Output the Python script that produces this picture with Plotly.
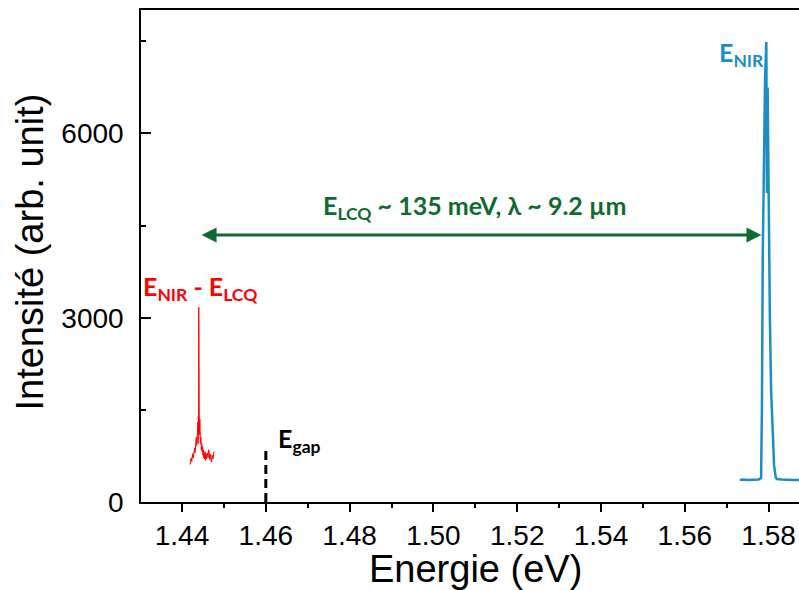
import plotly.graph_objects as go

# ---- data ----
red_energy = [1.44190, 1.44200, 1.44210, 1.44220, 1.44230, 1.44240, 1.44250, 1.44260,
              1.44270, 1.44280, 1.44290, 1.44300, 1.44310, 1.44320, 1.44330, 1.44340,
              1.44350, 1.44360, 1.44370, 1.44380, 1.44385, 1.44390, 1.44395, 1.44400,
              1.44403, 1.44406, 1.44410, 1.44413, 1.44416, 1.44420, 1.44425, 1.44430,
              1.44435, 1.44440, 1.44450, 1.44460, 1.44470,
              1.44480, 1.44490, 1.44500, 1.44510, 1.44520, 1.44530, 1.44540, 1.44550,
              1.44560, 1.44570, 1.44580, 1.44600, 1.44620, 1.44640, 1.44660, 1.44680,
              1.44700, 1.44720, 1.44740, 1.44760]
red_intensity = [610, 700, 640, 720, 660, 760, 700, 790,
                 720, 830, 760, 880, 800, 950, 870, 1050,
                 920, 1150, 1000, 1300, 950, 1400, 1100, 3170,
                 1150, 1450, 1610, 1100, 1500, 1200, 1350, 1000,
                 1150, 950, 1050, 850, 950,
                 820, 900, 760, 850, 720, 800, 700, 820,
                 680, 780, 700, 800, 720, 850, 690, 780,
                 650, 760, 700, 820]

blue_energy = [1.5731, 1.5740, 1.5750, 1.5760, 1.5770, 1.5776, 1.5782, 1.5784,
               1.5786, 1.5788, 1.57915, 1.57945, 1.5796, 1.57976, 1.5799, 1.5801,
               1.5803, 1.5806, 1.5809, 1.5813, 1.5817, 1.5820, 1.5830, 1.5840,
               1.5850, 1.5860, 1.5875]
blue_intensity = [360, 365, 358, 362, 360, 368, 390, 1500,
                  4000, 5500, 6900, 7490, 5030, 6750, 5500, 4200,
                  3000, 1800, 1200, 600, 400, 375, 365, 360,
                  362, 358, 360]

gap_energy = [1.46, 1.46]
gap_intensity = [0, 880]

x_tickvals = [1.44, 1.46, 1.48, 1.50, 1.52, 1.54, 1.56, 1.58]
x_ticktext = ["1.44", "1.46", "1.48", "1.50", "1.52", "1.54", "1.56", "1.58"]
y_tickvals = [0, 3000, 6000]
y_ticktext = ["0", "3000", "6000"]

# ---- styles ----
RED = "#ff0000"
BLUE = "#1b8fc4"
GREEN = "#0e6b30"
LBL_FONT = "Lato"
AX_FONT = "Liberation Sans"

fig = go.Figure()
fig.add_trace(go.Scatter(x=red_energy, y=red_intensity, mode="lines",
                         line=dict(color=RED, width=1), showlegend=False,
                         hoverinfo="skip"))
fig.add_trace(go.Scatter(x=blue_energy, y=blue_intensity, mode="lines",
                         line=dict(color=BLUE, width=2.5), showlegend=False,
                         hoverinfo="skip"))
fig.add_trace(go.Scatter(x=gap_energy, y=gap_intensity, mode="lines",
                         line=dict(color="black", width=3, dash="9px,5px"),
                         showlegend=False, hoverinfo="skip"))

# double-headed arrow
arrow_x0, arrow_x1, arrow_y = 1.4443, 1.5783, 4346
fig.add_annotation(x=arrow_x1, y=arrow_y, ax=arrow_x0, ay=arrow_y,
                   xref="x", yref="y", axref="x", ayref="y", text="",
                   showarrow=True, arrowhead=2, startarrowhead=2,
                   arrowside="end+start", arrowsize=1, startarrowsize=1,
                   arrowwidth=3, arrowcolor=GREEN)

fig.add_annotation(x=1.5097, y=4800, xref="x", yref="y", showarrow=False,
                   text="<b>E<sub>LCQ</sub> ~ 135 meV, λ ~ 9.2 µm</b>",
                   font=dict(family=LBL_FONT, size=25, color=GREEN))
fig.add_annotation(x=1.5735, y=7300, xref="x", yref="y", showarrow=False,
                   text="<b>E<sub>NIR</sub></b>",
                   font=dict(family=LBL_FONT, size=25, color=BLUE))
fig.add_annotation(x=1.4443, y=3480, xref="x", yref="y", showarrow=False,
                   text="<b>E<sub>NIR</sub> - E<sub>LCQ</sub></b>",
                   font=dict(family=LBL_FONT, size=25, color=RED))
fig.add_annotation(x=1.4681, y=1010, xref="x", yref="y", showarrow=False,
                   text="<b>E<sub>gap</sub></b>",
                   font=dict(family=LBL_FONT, size=25, color="black"))

# axis titles
fig.add_annotation(x=-0.168, y=0.508, xref="paper", yref="paper", showarrow=False,
                   xanchor="center", yanchor="middle",
                   text="Intensité (arb. unit)", textangle=-90,
                   font=dict(family=AX_FONT, size=38, color="black"))
fig.add_annotation(x=0.509, y=-0.136, xref="paper", yref="paper", showarrow=False,
                   xanchor="center", yanchor="middle",
                   text="Energie (eV)",
                   font=dict(family=AX_FONT, size=38, color="black"))

fig.update_layout(
    width=799, height=590,
    margin=dict(l=141, r=0, t=10, b=88, autoexpand=False),
    paper_bgcolor="white", plot_bgcolor="white",
    hovermode=False,
    xaxis=dict(range=[1.43021, 1.58725], showgrid=False, zeroline=False,
               automargin=False,
               showline=True, linecolor="black", linewidth=1.5, mirror=True,
               ticks="outside", ticklen=8, tickwidth=1.5, tickcolor="black",
               tickvals=x_tickvals, ticktext=x_ticktext,
               tickfont=dict(family=AX_FONT, size=28, color="black"),
               minor=dict(dtick=0.01, tick0=1.43, ticks="outside", ticklen=4,
                          tickwidth=1.5, tickcolor="black")),
    yaxis=dict(range=[0, 8010], showgrid=False, zeroline=False,
               automargin=False,
               showline=True, linecolor="black", linewidth=1.5, mirror=False,
               ticks="inside", ticklen=10, tickwidth=1.5, tickcolor="black",
               tickvals=y_tickvals, ticktext=y_ticktext, ticklabelstandoff=10,
               tickfont=dict(family=AX_FONT, size=28, color="black"),
               minor=dict(dtick=1500, tick0=0, ticks="inside", ticklen=5,
                          tickwidth=1.5, tickcolor="black")),
)

fig.write_html("out.html", config={"displayModeBar": False},
               post_script="document.body.style.margin='0';")
